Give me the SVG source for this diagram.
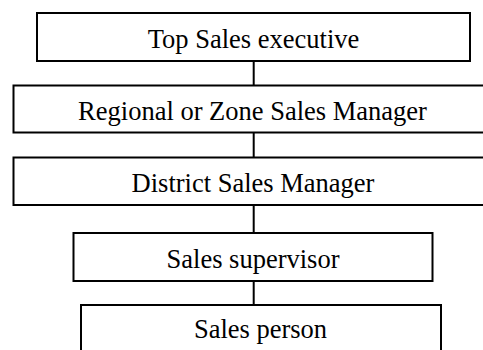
<svg xmlns="http://www.w3.org/2000/svg" width="483" height="350" viewBox="0 0 483 350">
<style>
.box{fill:#fff;stroke:#000;stroke-width:2}
.lbl{font-size:26.5px;fill:#000;text-anchor:middle}
.con{stroke:#000;stroke-width:2;fill:none}
</style>
<rect width="483" height="350" fill="#fff"/>
<g id="connectors">
<line class="con" x1="253.7" y1="61" x2="253.7" y2="85.5"/>
<line class="con" x1="253.7" y1="132.5" x2="253.7" y2="157.5"/>
<line class="con" x1="253.7" y1="205" x2="253.7" y2="233"/>
<line class="con" x1="253.7" y1="281" x2="253.7" y2="305"/>
</g>
<g font-family="'Liberation Serif', 'DejaVu Serif', serif">
<g id="node1">
<rect class="box" x="37" y="13" width="433" height="48"/>
<text class="lbl" x="253.5" y="48.3">Top Sales executive</text>
</g>
<g id="node2">
<rect class="box" x="13.5" y="85.5" width="490" height="47"/>
<text class="lbl" x="252.5" y="120">Regional or Zone Sales Manager</text>
</g>
<g id="node3">
<rect class="box" x="13.5" y="157.5" width="490" height="47.5"/>
<text class="lbl" x="253" y="192">District Sales Manager</text>
</g>
<g id="node4">
<rect class="box" x="73.5" y="233" width="359" height="48"/>
<text class="lbl" x="253" y="268">Sales supervisor</text>
</g>
<g id="node5">
<rect class="box" x="81" y="305" width="360" height="60"/>
<text class="lbl" x="260.5" y="338">Sales person</text>
</g>
</g>
</svg>
